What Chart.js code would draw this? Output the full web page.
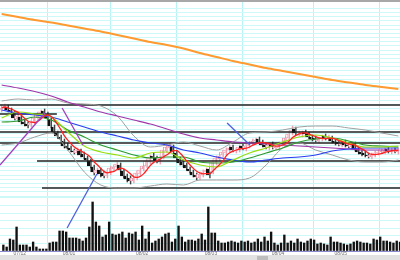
<!DOCTYPE html>
<html>
<head>
<meta charset="utf-8">
<script src="https://cdn.jsdelivr.net/npm/chart.js@4.4.1/dist/chart.umd.min.js"></script>
<style>
  html, body { margin: 0; padding: 0; background: #fff; }
  #wrap { position: relative; width: 400px; height: 260px; overflow: hidden; background: #fff; }
  #topline { position: absolute; left: 0; top: 0; width: 400px; height: 2px; background: #a8a8a8; }
  #band { position: absolute; left: 0; top: 255px; width: 400px; height: 5px; background: #e2e2e2; }
  #thumb { position: absolute; left: 257px; top: 256px; width: 11px; height: 4px; background: #bdbdbd; }
  #cv { position: absolute; left: 0; top: 2px; }
</style>
</head>
<body>
<div id="wrap">
  <div id="topline"></div>
  <div id="band"></div>
  <div id="thumb"></div>
  <canvas id="cv" width="400" height="254"></canvas>
</div>
<script>
// daily prices (one entry per trading day)
const openP = [86,88,89,86,83,77,79,74,72,71,
  74,78,81,85,82,76,69,63,59,55,
  50,48,45,43,45,42,38,35,29,23,
  26,23,20,23,27,29,31,25,20,18,
  15,18,22,27,30,34,40,38,34,39,
  45,48,49,43,37,34,31,27,24,21,
  18,21,24,27,24,33,37,41,43,46,
  49,45,46,50,47,50,53,55,57,54,
  51,48,52,48,48,52,55,58,63,67,
  62,61,64,62,59,58,55,57,60,57,
  58,55,54,51,54,51,49,52,47,44,
  43,41,39,41,43,44,44,47,44,46,
  44];
const highP = [91,92,91,88,85,82,80,76,74,75,
  80,84,86,87,84,78,71,65,61,57,
  53,50,47,48,47,44,40,37,31,28,
  28,25,26,30,31,34,33,27,22,20,
  20,25,28,32,37,41,43,40,40,48,
  52,53,51,46,39,36,33,29,26,23,
  24,26,28,29,36,40,43,46,48,51,
  51,48,51,52,52,54,57,58,59,56,
  53,53,54,51,54,56,60,64,70,69,
  65,65,66,64,61,60,59,61,62,61,
  60,57,56,55,56,53,54,54,49,46,
  45,43,43,45,46,47,48,49,48,48,
  48];
const lowP = [84,86,84,82,76,75,72,70,68,69,
  72,76,79,81,76,68,62,58,55,48,
  46,44,42,41,39,37,34,28,21,21,
  19,18,18,21,25,27,24,18,14,12,
  13,16,20,25,28,32,36,33,32,37,
  43,46,42,36,31,29,26,23,19,16,
  16,19,22,18,22,31,35,39,41,44,
  44,43,44,46,45,48,51,53,52,49,
  47,46,47,46,46,50,53,56,61,61,
  60,59,60,57,55,54,53,55,56,55,
  53,51,50,49,49,48,47,45,42,40,
  39,38,37,39,41,42,42,43,42,43,
  42];
const closeP = [88,90,86,84,78,80,74,72,70,73,
  78,82,84,83,78,70,64,60,57,50,
  48,46,44,46,41,39,36,30,24,26,
  22,20,24,28,29,32,26,20,17,15,
  18,23,26,30,35,39,38,35,38,46,
  49,50,44,38,33,31,28,25,21,19,
  22,24,26,21,34,38,40,44,46,48,
  46,46,49,48,50,52,55,56,54,51,
  49,51,49,49,52,54,58,62,66,63,
  62,63,62,59,57,56,57,59,58,59,
  55,53,52,53,51,50,52,47,44,42,
  41,40,41,43,44,45,46,45,46,45,
  46];
const volume = [60,40,120,110,240,60,60,60,40,90,
  40,20,20,20,80,90,90,200,200,190,
  130,130,130,120,100,130,240,490,290,250,
  140,160,290,170,160,170,190,130,180,170,
  190,110,250,120,190,80,100,120,140,170,
  180,90,120,250,140,90,110,110,100,120,
  170,110,440,180,180,100,80,80,90,100,
  90,80,100,90,100,80,90,120,90,140,
  100,190,80,60,80,160,80,100,80,120,
  90,80,100,120,110,70,80,70,60,140,
  90,90,80,70,60,70,90,100,90,80,
  80,70,120,110,140,100,100,90,80,100,
  90];
// 5-day average, read per day
const ma5 = [88,89,88,87,85.2,83.6,80.4,77.6,74.8,73.8,
  73.4,75,77.4,80,81,79.4,75.8,71,65.8,60.2,
  55.8,52.2,49,46.8,45,43.2,41.2,38.4,34,31,
  27.6,24.4,23.2,24,24.6,26.6,27.8,27,24.8,22,
  19.2,18.6,19.8,22.4,26.4,30.6,33.6,35.4,37,39.2,
  41.2,43.6,45.4,45.4,42.8,39.2,34.8,31,27.6,24.8,
  23,22.2,22.4,22.4,25.4,28.6,31.8,35.4,40.4,43.2,
  44.8,46,47,47.4,47.8,49,50.8,52.2,53.4,53.6,
  53,52.2,50.8,49.8,50,51,52.4,55,58.4,60.6,
  62.2,63.2,63.2,61.8,60.6,59.4,58.2,57.6,57.4,57.8,
  57.6,56.8,55.4,54.4,52.8,51.8,51.6,50.6,48.8,47,
  45.2,42.8,41.6,41.4,41.8,42.6,43.8,44.6,45.2,45.4,
  45.6];
// slower lines, read every 5th day
const maIdx = [0,5,10,15,20,25,30,35,40,45,50,55,60,65,70,75,80,85,90,95,100,105,110,115,120];
const ma200 = [182,179,176,173.5,170.5,167.5,164.5,161,157.5,154,151,147.5,143,139,135,131.5,128,125,122,119,116,113.5,111,109,107];
const ma75 = [111,108,104.5,100,94,89,84,80,76,72,67,62,58,56,54,53,52,51,50,49,48,47,46,46,46];
const ma25 = [86,83,81,79,74,69,64,60,56,53,51,46,43,39,36,34,36,38,39,41,45,47,48,48,48];
const ma13 = [74,75,79,76,66,59,51,46,41,38,39,39,34,33,34,38,43,48,54,57,58,55,51,50,49];
const ma9 = [78,84,82,79,64,50,44,41,38,43,44,36,31,29,36,43,48,54,59,61,58,53,49,49,50];
const bbUpper = [95,97,96,97,93,92,90,80,60,49,51,54,50,46,54,63,64,66,69,70,70,68,66,63,60];
const bbLower = [51,53,59,63,46,24,11,8,8,10,12,11,16,16,16,18,31,48,53,46,41,36,34,34,36];
// drawn support / resistance levels
const levelY = [91, 82, 64, 53, 35, 8];
const levelFrom = [-0.5, -0.5, -0.5, -0.5, 10.7, 12.2];
const levelTo = [120.5, 16.7, 120.5, 120.5, 120.5, 120.5];
// hand-drawn trend lines
const trendX1 = [-0.5, 18.3, 68.2, 19.8];
const trendY1 = [31, 88, 73, -32];
const trendX2 = [13.1, 24.6, 75.1, 28.8];
const trendY2 = [83, 51, 51, 22];
// month labels and vertical grid positions (day index)
const monthLabels = ['07/12', '08/01', '08/02', '08/03', '08/04', '08/05'];
const monthAt = [5.5, 20.4, 42.5, 63.3, 83.6, 102.6];
const gridAt = [14, 32.8, 53, 73, 94.2, 114.4];

const pts = (xs, ys) => ys.map((y, i) => ({ x: xs[i], y: y }));
const days = closeP.map((_, i) => i);
const isUp = days.map(i => closeP[i] >= openP[i]);

function maLine(data, color, width, order) {
  return {
    type: 'line', data: data, borderColor: color, borderWidth: width,
    pointRadius: 0, fill: false, cubicInterpolationMode: 'monotone', order: order
  };
}

const datasets = [
  maLine(pts(days, ma5), '#ff2020', 1.3, 1),
  maLine(pts(maIdx, ma9), '#99dd11', 1.2, 2),
  maLine(pts(maIdx, ma13), '#2f9a2f', 1.2, 3),
  maLine(pts(maIdx, ma25), '#2b3df0', 1.2, 4),
  maLine(pts(maIdx, ma75), '#a035a8', 1.2, 5),
  maLine(pts(maIdx, ma200), '#ff9a30', 2, 6),
  maLine(pts(maIdx, bbUpper), '#a0a0a0', 1, 7),
  maLine(pts(maIdx, bbLower), '#a0a0a0', 1, 7)
];

levelY.forEach((y, i) => {
  datasets.push({
    type: 'line', data: [{ x: levelFrom[i], y: y }, { x: levelTo[i], y: y }],
    borderColor: '#222', borderWidth: 1.6, pointRadius: 0, order: 8
  });
});

const trendColors = ['#a040c0', '#a040c0', '#5060e0', '#5060e0'];
trendX1.forEach((x, i) => {
  datasets.push({
    type: 'line', data: [{ x: x, y: trendY1[i] }, { x: trendX2[i], y: trendY2[i] }],
    borderColor: trendColors[i], borderWidth: 1.3, pointRadius: 0, order: 0
  });
});

// candle bodies: white with pink edge when up, black when down
datasets.push({
  type: 'bar',
  data: days.map(i => ({ x: i, y: [openP[i], closeP[i]] })),
  backgroundColor: isUp.map(u => u ? '#ffffff' : '#111111'),
  borderColor: isUp.map(u => u ? '#e98aa0' : '#111111'),
  borderWidth: 0.8, borderSkipped: false,
  barThickness: 2.4, order: 10
});
// candle wicks
datasets.push({
  type: 'bar',
  data: days.map(i => ({ x: i, y: [lowP[i], highP[i]] })),
  backgroundColor: isUp.map(u => u ? '#eea0b0' : '#444444'),
  barThickness: 0.8, order: 11
});
// volume
datasets.push({
  type: 'bar', yAxisID: 'yv',
  data: days.map(i => ({ x: i, y: volume[i] })),
  backgroundColor: '#111', barThickness: 1.7, order: 12
});

new Chart(document.getElementById('cv'), {
  type: 'line',
  data: { datasets: datasets },
  options: {
    responsive: false,
    animation: false,
    events: [],
    layout: { padding: 0 },
    plugins: { legend: { display: false }, tooltip: { enabled: false } },
    scales: {
      x: {
        type: 'linear', min: -0.5, max: 120.5, offset: false,
        ticks: { display: false },
        grid: { color: '#b8f4f4', drawTicks: false, offset: false },
        border: { display: false },
        afterBuildTicks: s => { s.ticks = gridAt.map(v => ({ value: v })); }
      },
      xd: {
        type: 'linear', position: 'bottom', min: -0.5, max: 120.5, offset: false,
        grid: { display: false, drawTicks: false, offset: false }, border: { display: false },
        ticks: {
          autoSkip: false, maxRotation: 0, padding: 0, color: '#707070',
          font: { family: 'Liberation Sans', size: 5 },
          callback: (v, i) => monthLabels[i]
        },
        afterBuildTicks: s => { s.ticks = monthAt.map(v => ({ value: v })); },
        afterFit: s => { s.height = 5; }
      },
      y: {
        type: 'linear', position: 'left', min: -55, max: 194,
        ticks: { display: false, stepSize: 4.17, maxTicksLimit: 1000 },
        grid: { color: '#cdf9f9', drawTicks: false },
        border: { display: false },
        afterBuildTicks: s => { s.ticks = s.ticks.filter(t => t.value > -0.5 && t.value < 193); }
      },
      yv: {
        type: 'linear', position: 'left', min: 0, max: 2490,
        ticks: { display: false, stepSize: 76, maxTicksLimit: 1000 },
        grid: {
          drawTicks: false,
          color: c => (c.tick && c.tick.value === 0) ? '#8a8ad0' : '#cdf9f9'
        },
        border: { display: false },
        afterBuildTicks: s => { s.ticks = s.ticks.filter(t => t.value <= 540); }
      }
    }
  }
});
</script>
</body>
</html>
